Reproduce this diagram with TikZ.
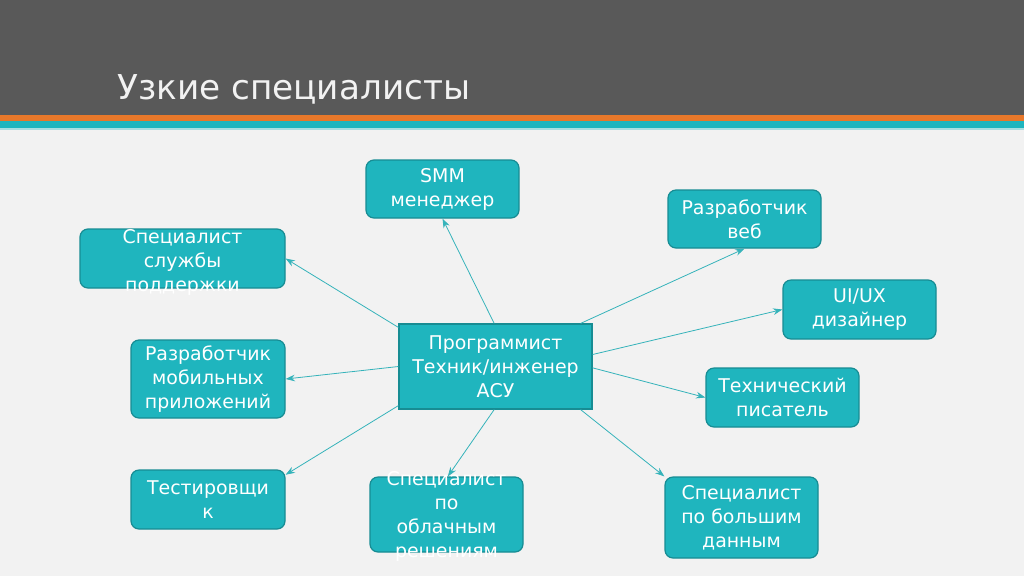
\documentclass[tikz,border=0pt]{standalone}
\usepackage{fontspec}
\setmainfont{DejaVu Sans}
\usetikzlibrary{arrows.meta}
\definecolor{bg}{HTML}{F2F2F2}
\definecolor{hdr}{HTML}{595959}
\definecolor{orng}{HTML}{E8782A}
\definecolor{teal}{HTML}{1FB5BE}
\definecolor{tealdark}{HTML}{178C93}
\definecolor{teallight}{HTML}{A9DFE2}
\definecolor{arrowc}{HTML}{35B3BA}
\tikzset{
  box/.style={draw=tealdark, line width=0.9pt, fill=teal, rounded corners=6pt, inner sep=0pt},
  cbox/.style={draw=tealdark, line width=0.9pt, fill=teal, inner sep=0pt},
  txt/.style={text=white, align=center, font=\fontsize{14.2}{18}\selectfont, inner sep=0pt},
  conn/.style={arrowc, line width=0.6pt, -{Stealth[length=7pt,width=5pt]}}
}
\begin{document}
\begin{tikzpicture}[x=0.75pt,y=-0.75pt]
\useasboundingbox (0,0) rectangle (1024,576);
\fill[bg] (0,0) rectangle (1024,576);
\fill[hdr] (0,0) rectangle (1024,115);
\fill[orng] (0,115) rectangle (1024,121);
\fill[teal] (0,121) rectangle (1024,128);
\fill[teallight] (0,128) rectangle (1024,130);
\node[anchor=base west, text=bg, font=\fontsize{25.7}{30}\selectfont, inner sep=0pt] (title) at (117,99) {Узкие специалисты};

% boxes
\node[cbox, minimum width=144.75pt, minimum height=63.75pt] (c) at (495.5,366.5) {};
\node[txt] (ct) at (c) {Программист\\Техник/инженер\\АСУ};

\node[box, minimum width=114.75pt, minimum height=43.5pt] (b1) at (442.5,189) {};
\node[txt] (t1) at (b1) {SMM\\менеджер};

\node[box, minimum width=114.75pt, minimum height=43.5pt] (b2) at (744.5,219) {};
\node[txt] (t2) at (b2) {Разработчик\\веб};

\node[box, minimum width=153.75pt, minimum height=44.25pt] (b3) at (182.5,258.5) {};
\node[txt] (t3) at ([yshift=-3pt]b3.center) {Специалист\\службы\\поддержки};

\node[box, minimum width=114.75pt, minimum height=44.25pt] (b4) at (859.5,309.5) {};
\node[txt] (t4) at (b4) {UI/UX\\дизайнер};

\node[box, minimum width=115.5pt, minimum height=58.5pt] (b6) at (208,379) {};
\node[txt] (t6) at (b6) {Разработчик\\мобильных\\приложений};

\node[box, minimum width=114.75pt, minimum height=44.25pt] (b7) at (782.5,397.5) {};
\node[txt] (t7) at (b7) {Технический\\писатель};

\node[box, minimum width=115.5pt, minimum height=44.25pt] (b8) at (208,499.5) {};
\node[txt] (t8) at (b8) {Тестировщи\\к};

\node[box, minimum width=114.75pt, minimum height=56.25pt] (b9) at (446.5,514.5) {};
\node[txt] (t9) at ([yshift=-1.5pt]b9.center) {Специалист\\по\\облачным\\решениям};

\node[box, minimum width=114.75pt, minimum height=60.75pt] (b10) at (741.5,517.5) {};
\node[txt] (t10) at (b10) {Специалист\\по большим\\данным};

% connectors
\draw[conn] ([xshift=-1pt]c.north) -- (b1.south);
\draw[conn] ([xshift=-9pt]c.north east) -- (b2.south);
\draw[conn] ([yshift=-3pt]c.north west) -- (b3.east);
\draw[conn] ([yshift=9pt]c.east) -- (b4.west);
\draw[conn] (c.west) -- ([yshift=-0pt]b6.east);
\draw[conn] ([yshift=-1pt]c.east) -- (b7.west);
\draw[conn] ([yshift=3pt]c.south west) -- ([yshift=-4pt]b8.north east);
\draw[conn] ([xshift=-1pt]c.south) -- ([xshift=1pt]b9.north);
\draw[conn] ([xshift=-9pt]c.south east) -- (b10.north west);
\end{tikzpicture}
\end{document}
